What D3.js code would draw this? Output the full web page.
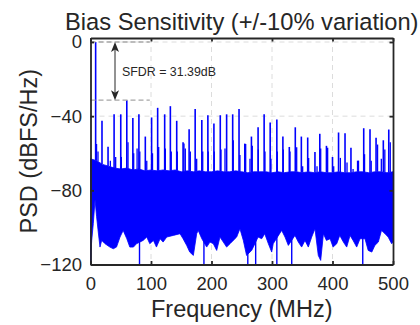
<!DOCTYPE html>
<html>
<head>
<meta charset="utf-8">
<script src="https://cdn.jsdelivr.net/npm/d3@7/dist/d3.min.js"></script>
<style>
  body { margin: 0; background: #fff; }
  text { font-family: Arial, "Liberation Sans", sans-serif; fill: #262626; }
</style>
</head>
<body>
<div id="psd-container"></div>
<script>
const xTicks = [0, 100, 200, 300, 400, 500];
const yTicks = [0, -40, -80, -120];
const titleText = "Bias Sensitivity (+/-10% variation)";
const xLabel = "Frequency (MHz)";
const yLabel = "PSD (dBFS/Hz)";
const sfdr = 31.39;

// tone + harmonic / intermod spurs (MHz, dB)
const spurFreq = [8.5, 19, 29, 39, 50, 60, 70, 80, 90.6, 101, 111, 122.6, 132, 142.5, 153, 163, 173, 184, 194, 204,
  214.5, 225, 235, 245.5, 255, 266, 277, 287, 297, 308, 318, 328.6, 338.5, 348.5, 359, 371, 379, 390, 400, 410,
  420.7, 430.5, 441.6, 451.6, 462, 472, 484, 493];
const spurLevel = [0, -42.5, -56.5, -39, -39, -31.39, -41, -39, -51, -40.7, -35.5, -39, -34.6, -42.5, -54, -47, -36.2, -42, -39.5, -44,
  -39.5, -39, -39, -36.2, -54.8, -51, -46, -39, -43.4, -41.8, -51, -56.6, -46, -51, -51.5, -59.3, -49.5, -56, -62, -48.8,
  -49.2, -57, -64, -46.5, -47, -51.7, -53, -47.2];

// smaller peaks next to the spurs
const sideFreq = [10, 12.4, 32.8, 41.6, 51, 62, 71.4, 77, 81.5, 93, 102.5, 112.7, 123.7, 133.5, 143.5, 154.5, 156.7, 165, 175.5, 185.5,
  194.7, 204.6, 215.7, 222.3, 236, 247, 256.5, 263.6, 267.4, 277.4, 288.4, 298.3, 308.8, 318.7, 329.8, 340.8, 350.7, 360.6, 374.4, 380.5,
  392, 402, 413, 424, 434, 443, 453, 464, 474.5, 480.7, 486.5, 495.5];
const sideLevel = [-55, -59, -64, -62, -62, -54, -60, -57.5, -59, -64, -60, -56.6, -57.5, -59, -59, -54.8, -57.5, -59, -63, -59,
  -59, -59, -58, -57.5, -53, -61, -55, -63, -56, -58, -59, -63, -59, -58, -59, -56.8, -67, -62.5, -67, -57.5,
  -57, -67, -62.5, -65, -68.5, -64, -60.5, -64, -55.3, -63, -58, -54];

// upper edge of the noise floor, every 10 MHz
const floorTopFreq = d3.range(0, 501, 10);
const floorTop = [-63, -64, -66, -67, -68, -68.5, -68, -69, -68.5, -69.5, -69, -69.5, -69, -69.5, -69, -70, -69.5, -70, -69.5, -70,
  -70, -69.5, -70, -70, -69.5, -70, -70.5, -70, -70, -70, -70.5, -70, -70.5, -70, -70, -70.5, -70, -70.5, -70, -70.5,
  -70.5, -70, -70.5, -70.5, -70, -70, -70.5, -70, -70, -70.5, -70];

// lower edge of the noise floor
const floorLowFreq = [0, 2, 4.6, 7.5, 10, 13, 15.7, 18.5, 24, 32, 37.7, 43, 48.8, 54, 60, 65, 71, 76, 87, 93,
  98, 104, 109, 115, 120, 126, 137, 148, 153, 159, 164, 170, 175.5, 178, 184, 192, 197.5, 203, 208.6, 214,
  219.5, 225, 230.6, 236, 241.6, 247, 252.6, 258, 266.4, 277, 283, 288, 294, 299.5, 302, 316, 321.5, 327, 338, 343.5,
  349, 354.5, 360, 365.6, 371, 376.5, 380.5, 385, 390, 396, 401, 407, 412, 418, 423.5, 429, 434, 440, 445.5, 453.7,
  459, 465, 470, 475.7, 481, 486.8, 492, 497.8, 500];
const floorLow = [-118, -107, -98, -85, -94, -103, -110.6, -107, -108.8, -110.6, -111.5, -110.6, -105.2, -101.6, -106.1, -110.6, -110.6, -108.8, -107, -105.2,
  -108.8, -107, -110.6, -106.1, -107.9, -105.2, -104.3, -103.4, -106.1, -109.7, -113.3, -115.1, -103.4, -101.6, -106.1, -110.6, -107.9, -108.8, -112.4, -105.2,
  -107.9, -110.6, -108.8, -107, -105.2, -100.7, -107, -115.1, -112.4, -105.2, -106.1, -103.4, -108.8, -113.3, -108.8, -101.6, -105.2, -109.7, -104.3, -107.9,
  -110.6, -107, -110.6, -105.2, -100.7, -115.1, -117.8, -103.4, -107, -106.1, -110.6, -108.8, -104.3, -107.9, -110.6, -104.3, -107, -110.6, -106.1, -106.1,
  -112.4, -113.3, -109.7, -107.9, -101.6, -103.4, -105.2, -108.8, -108];

// bins that drop to the bottom of the axis
const dipFreq = [0.5, 81, 187.5, 260, 273, 308, 332.6, 450];

const W = 420, H = 325;
const margin = { top: 38, right: 27, bottom: 60.5, left: 90.5 };

const svg = d3.select("#psd-container").append("svg")
  .attr("width", W)
  .attr("height", H);

const x = d3.scaleLinear().domain([0, 500]).range([margin.left, W - margin.right]);
const y = d3.scaleLinear().domain([-120, 2.16]).range([H - margin.bottom, margin.top]);

// grid
const grid = svg.append("g")
  .attr("stroke", "#dcdcdc")
  .attr("stroke-width", 1)
  .attr("stroke-dasharray", "5,4");
grid.selectAll(".gx").data(xTicks.slice(1, -1)).join("line")
  .attr("x1", d => x(d)).attr("x2", d => x(d))
  .attr("y1", y.range()[1]).attr("y2", y.range()[0]);
grid.selectAll(".gy").data(yTicks.slice(0, -1)).join("line")
  .attr("x1", x.range()[0]).attr("x2", x.range()[1])
  .attr("y1", d => y(d)).attr("y2", d => y(d));

// noise floor as a band
const topPts = floorTopFreq.map((f, i) => [x(f), y(floorTop[i])]);
const lowPts = floorLowFreq.map((f, i) => [x(f), y(floorLow[i])]).reverse();
const band = d3.line();
svg.append("path")
  .attr("d", band(topPts.concat(lowPts)) + "Z")
  .attr("fill", "#0000ff")
  .attr("stroke", "#0000ff")
  .attr("stroke-width", 0.8);

const floorAt = d3.scaleLinear().domain(floorTopFreq).range(floorTop);

// spurs
svg.append("g").selectAll("line").data(sideFreq).join("line")
  .attr("x1", d => x(d)).attr("x2", d => x(d))
  .attr("y1", d => y(floorAt(d)))
  .attr("y2", (d, i) => y(sideLevel[i]))
  .attr("stroke", "#0000ff")
  .attr("stroke-width", 1.3);

svg.append("g").selectAll("line").data(spurFreq).join("line")
  .attr("x1", d => x(d)).attr("x2", d => x(d))
  .attr("y1", d => y(floorAt(d)))
  .attr("y2", (d, i) => y(spurLevel[i]))
  .attr("stroke", "#0000ff")
  .attr("stroke-width", 1.6);

svg.append("g").selectAll("line").data(dipFreq).join("line")
  .attr("x1", d => x(d)).attr("x2", d => x(d))
  .attr("y1", y(-102))
  .attr("y2", y(-120))
  .attr("stroke", "#0000ff")
  .attr("stroke-width", 1.4);

// SFDR annotation
const ann = svg.append("g");
ann.selectAll("line").data([0, -sfdr]).join("line")
  .attr("x1", x(0)).attr("x2", x(98))
  .attr("y1", d => y(d)).attr("y2", d => y(d))
  .attr("stroke", "#a6a6a6")
  .attr("stroke-width", 1.3)
  .attr("stroke-dasharray", "5,3");

const ax = x(40.5);
ann.append("line")
  .attr("x1", ax).attr("x2", ax)
  .attr("y1", y(0) + 6).attr("y2", y(-sfdr) - 6)
  .attr("stroke", "#262626")
  .attr("stroke-width", 1);
const head = "M0,0 L-4,10 L0,7.5 L4,10 Z";
ann.append("path")
  .attr("d", head)
  .attr("transform", `translate(${ax},${y(0)})`)
  .attr("fill", "#262626");
ann.append("path")
  .attr("d", head)
  .attr("transform", `translate(${ax},${y(-sfdr)}) rotate(180)`)
  .attr("fill", "#262626");
ann.append("text")
  .attr("x", ax + 7)
  .attr("y", (y(0) + y(-sfdr)) / 2)
  .attr("dy", "0.36em")
  .attr("font-size", "12.4px")
  .text(`SFDR = ${sfdr}dB`);

// axes
const xAxis = d3.axisBottom(x).tickValues(xTicks).tickSizeInner(-3.5).tickSizeOuter(0).tickPadding(12);
const yAxis = d3.axisLeft(y).tickValues(yTicks).tickSizeInner(-3.5).tickSizeOuter(0).tickPadding(8.5);

const gx = svg.append("g")
  .attr("transform", `translate(0,${y.range()[0]})`)
  .call(xAxis);
const gy = svg.append("g")
  .attr("transform", `translate(${x.range()[0]},0)`)
  .call(yAxis);
svg.append("g")
  .attr("transform", `translate(0,${y.range()[1]})`)
  .call(d3.axisTop(x).tickValues(xTicks).tickSizeInner(-3.5).tickSizeOuter(0).tickFormat(""));
svg.append("g")
  .attr("transform", `translate(${x.range()[1]},0)`)
  .call(d3.axisRight(y).tickValues(yTicks).tickSizeInner(-3.5).tickSizeOuter(0).tickFormat(""));

svg.selectAll(".domain").attr("stroke", "#262626").attr("stroke-width", 1.8);
svg.selectAll(".tick line").attr("stroke", "#262626").attr("stroke-width", 1.8);
svg.selectAll(".tick text")
  .attr("font-size", "18.5px")
  .attr("font-family", "Arial, 'Liberation Sans', sans-serif")
  .attr("fill", "#262626");

// titles
svg.append("text")
  .attr("x", (x.range()[0] + x.range()[1]) / 2)
  .attr("y", 29.5)
  .attr("text-anchor", "middle")
  .attr("font-size", "23.7px")
  .attr("fill", "#000")
  .text(titleText);

svg.append("text")
  .attr("x", (x.range()[0] + x.range()[1]) / 2)
  .attr("y", 316.5)
  .attr("text-anchor", "middle")
  .attr("font-size", "23.5px")
  .text(xLabel);

svg.append("text")
  .attr("transform", `translate(36.5,${(y.range()[0] + y.range()[1]) / 2}) rotate(-90)`)
  .attr("text-anchor", "middle")
  .attr("font-size", "23.5px")
  .text(yLabel);
</script>
</body>
</html>
